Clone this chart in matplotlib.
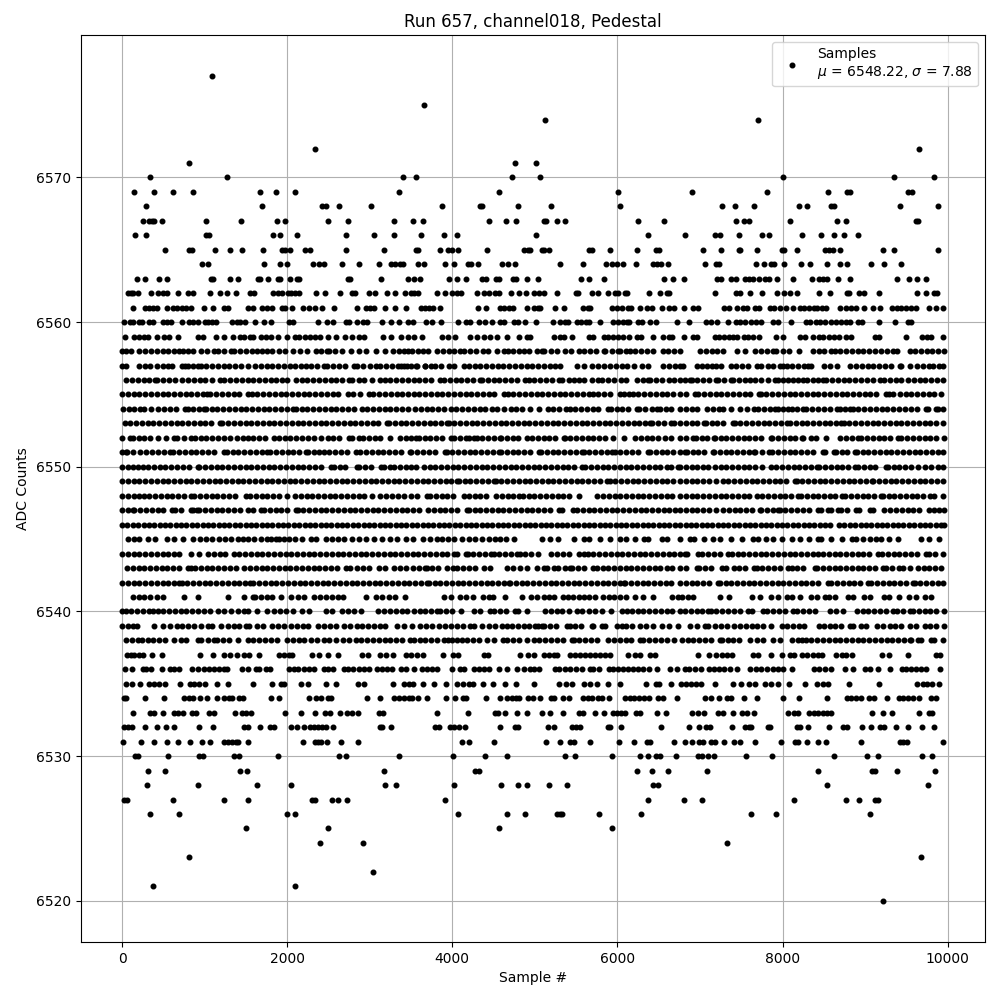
import matplotlib
matplotlib.use("Agg")
import matplotlib.pyplot as plt

title = "Run 657, channel018, Pedestal"
xlabel = "Sample #"
ylabel = "ADC Counts"
legend_label = "Samples\n$\\mu$ = 6548.22, $\\sigma$ = 7.88"

# Sample numbers, one list per ADC level
s6577 = [1092]
s6575 = [3655]
s6574 = [5118, 7705]
s6572 = [2337, 9652]
s6571 = [814, 4755, 5009]
s6570 = [343, 1273, 3401, 3558, 4719, 5058, 8008, 9350, 9833]
s6569 = [149, 391, 621, 862, 1672, 1866, 2096, 3353, 4562, 6013, 6907, 7814, 8552, 8781, 8814, 9519, 9567]
s6568 = [294, 1697, 2418, 2466, 2628, 3014, 3873, 4332, 4364, 4792, 5191, 6037, 7270, 7427, 7657, 8201, 8297, 8589, 8620, 9422, 9882]
s6567 = [258, 330, 363, 391, 488, 1020, 1443, 1878, 1975, 2495, 2736, 3293, 3522, 3643, 4441, 4647, 4767, 5106, 5138, 5263, 5360, 6255, 6569, 7440, 7536, 7597, 8092, 8660, 8769, 9620, 9640]
s6566 = [161, 294, 1020, 1056, 1830, 1914, 2120, 2712, 3051, 3293, 3619, 3897, 4054, 5009, 6375, 6823, 7186, 7246, 7475, 7754, 7838, 8238, 8467, 8624, 8745, 8914]
s6565 = [524, 814, 850, 1128, 1310, 1455, 1709, 1938, 1975, 2035, 2217, 2277, 2712, 3172, 3558, 3583, 3849, 3945, 3994, 4066, 4417, 4864, 4913, 4945, 5086, 5114, 5167, 5650, 5698, 5916, 6243, 6472, 6508, 7032, 7250, 7475, 7488, 7693, 7996, 8020, 8177, 8515, 8563, 8612, 8697, 9216, 9350, 9882]
s6564 = [971, 1044, 1721, 1914, 1999, 2313, 2386, 2446, 2664, 2869, 3111, 3256, 3305, 3365, 3401, 3583, 3655, 3909, 4018, 4187, 4223, 4308, 4598, 4671, 4755, 5300, 5578, 5856, 5940, 5989, 6073, 6230, 6436, 6484, 6533, 6617, 7065, 7198, 7235, 7681, 7778, 7862, 7899, 8020, 8226, 8334, 8540, 8697, 8782, 9072, 9229, 9434]
s6563 = [185, 282, 451, 548, 1076, 1104, 1310, 1406, 1648, 1672, 1769, 1890, 1914, 2035, 2120, 2144, 2736, 2761, 3135, 3462, 3534, 3607, 3957, 4054, 4163, 4356, 4405, 4526, 4562, 4731, 4767, 4900, 5033, 5553, 5650, 5843, 6569, 6678, 6811, 7210, 7258, 7379, 7440, 7548, 7597, 7645, 7717, 7790, 7838, 7935, 8128, 8358, 8443, 8491, 8540, 8673, 8818, 9386, 9531, 9628, 9737]
s6562 = [77, 109, 137, 197, 355, 439, 492, 540, 681, 802, 862, 1068, 1189, 1273, 1382, 1552, 1600, 1830, 1890, 1938, 2011, 2047, 2096, 2144, 2354, 2458, 2640, 2785, 2821, 2990, 3063, 3208, 3305, 3425, 3498, 3534, 3583, 3812, 3909, 3994, 4054, 4103, 4296, 4381, 4441, 4514, 4562, 4707, 4804, 4888, 4985, 5045, 5106, 5263, 5493, 5517, 5698, 5759, 5892, 5976, 6013, 6097, 6121, 6388, 6521, 6605, 6629, 7186, 7440, 7488, 7609, 7754, 7935, 8020, 8092, 8177, 8443, 8576, 8782, 8806, 8927, 8987, 9168, 9628, 9737, 9833, 9870]
s6561 = [137, 282, 330, 379, 427, 548, 621, 669, 729, 778, 838, 995, 1104, 1237, 1286, 1527, 1588, 1697, 1757, 1818, 1938, 1975, 2059, 2192, 2265, 2337, 2422, 2567, 2845, 2954, 3002, 3051, 3184, 3305, 3437, 3619, 3667, 3716, 3764, 3849, 4308, 4405, 4574, 4622, 4683, 4731, 4905, 4985, 5033, 5057, 5239, 5348, 5589, 5638, 5674, 5940, 5989, 6061, 6134, 6170, 6279, 6363, 6424, 6545, 6629, 6690, 6811, 6920, 6980, 7294, 7355, 7451, 7524, 7572, 7669, 7717, 7850, 7899, 7971, 8044, 8128, 8213, 8262, 8322, 8383, 8419, 8479, 8527, 8697, 8769, 8830, 8890, 8987, 9096, 9180, 9326, 9386, 9434, 9495, 9555, 9616, 9773, 9857, 9942]
s6560 = [28, 101, 137, 210, 246, 330, 379, 500, 548, 596, 729, 814, 862, 923, 1008, 1044, 1092, 1140, 1334, 1394, 1431, 1491, 1612, 1721, 1805, 2023, 2071, 2374, 2482, 2555, 2712, 2748, 2845, 2918, 2966, 3147, 3256, 3353, 3462, 3522, 3679, 3752, 3861, 4066, 4163, 4211, 4320, 4393, 4477, 4574, 4622, 4743, 4792, 4876, 5009, 5215, 5300, 5360, 5396, 5505, 5553, 5614, 5650, 5795, 5949, 6013, 6073, 6121, 6146, 6255, 6303, 6400, 6472, 6726, 6871, 7077, 7138, 7210, 7343, 7440, 7488, 7548, 7621, 7681, 7742, 7886, 7947, 8105, 8286, 8334, 8407, 8455, 8515, 8588, 8648, 8709, 8769, 8818, 8915, 8963, 9168, 9362, 9519, 9555]
s6559 = [40, 149, 210, 270, 318, 427, 512, 572, 681, 923, 983, 1140, 1237, 1346, 1431, 1479, 1552, 1588, 1685, 1745, 1805, 1890, 1999, 2096, 2144, 2217, 2277, 2337, 2398, 2495, 2591, 2700, 2785, 2869, 2930, 3160, 3256, 3377, 3462, 3534, 3631, 3873, 3945, 4030, 4211, 4300, 4381, 4461, 4542, 4663, 4804, 4905, 4945, 5227, 5300, 5348, 5445, 5650, 5710, 5843, 5892, 5949, 6013, 6073, 6146, 6235, 6291, 6436, 6557, 6629, 6666, 6811, 6920, 6968, 7186, 7234, 7294, 7355, 7403, 7451, 7536, 7585, 7645, 7717, 7923, 8008, 8213, 8274, 8370, 8443, 8491, 8563, 8624, 8685, 8769, 8830, 9120, 9168, 9499, 9688, 9749, 9797, 9942]
s6558 = [0, 50, 110, 210, 280, 350, 420, 490, 560, 630, 695, 735, 800, 860, 955, 1030, 1115, 1165, 1240, 1320, 1350, 1425, 1500, 1570, 1640, 1700, 1760, 1820, 1900, 1970, 2065, 2150, 2245, 2345, 2415, 2480, 2505, 2580, 2660, 2770, 2870, 2950, 3070, 3185, 3280, 3350, 3415, 3465, 3515, 3583, 3640, 3704, 3815, 3885, 3955, 4020, 4090, 4139, 4215, 4290, 4372, 4429, 4542, 4622, 4671, 4740, 4810, 4870, 4925, 5026, 5086, 5114, 5190, 5270, 5368, 5437, 5529, 5600, 5670, 5740, 5832, 5852, 5930, 6013, 6033, 6100, 6154, 6214, 6285, 6355, 6428, 6549, 6617, 6690, 6758, 7000, 7070, 7140, 7210, 7274, 7443, 7544, 7665, 7740, 7815, 7887, 7927, 8000, 8080, 8197, 8370, 8440, 8499, 8591, 8632, 8700, 8770, 8840, 8910, 8980, 9050, 9120, 9190, 9260, 9337, 9386, 9540, 9610, 9680, 9750, 9813, 9881, 9974]
s6557 = [0, 50, 210, 280, 340, 420, 490, 560, 610, 720, 760, 795, 860, 915, 955, 1020, 1090, 1160, 1230, 1300, 1370, 1440, 1530, 1610, 1680, 1750, 1820, 1890, 1960, 2030, 2100, 2170, 2225, 2285, 2365, 2445, 2485, 2560, 2630, 2700, 2810, 2850, 2920, 3000, 3070, 3130, 3200, 3270, 3340, 3420, 3500, 3373, 3450, 3555, 3575, 3665, 3675, 3740, 3795, 3865, 3960, 4025, 4147, 4200, 4270, 4340, 4410, 4480, 4550, 4620, 4690, 4760, 4830, 4900, 4970, 5040, 5110, 5180, 5250, 5310, 5510, 5600, 5690, 5770, 5840, 5910, 5980, 6050, 6120, 6200, 6295, 6375, 6555, 6630, 6700, 6760, 6800, 6960, 7030, 7090, 7150, 7200, 7260, 7370, 7440, 7510, 7580, 7685, 7745, 7820, 7890, 7970, 8010, 8055, 8120, 8190, 8260, 8310, 8340, 8500, 8580, 8655, 8820, 8890, 8960, 9030, 9100, 9170, 9240, 9310, 9420, 9440, 9540, 9630, 9700, 9775, 9825, 9890, 9945]
s6556 = [50, 120, 190, 260, 330, 400, 425, 500, 570, 640, 720, 800, 870, 945, 1000, 1090, 1190, 1240, 1310, 1380, 1450, 1520, 1590, 1660, 1730, 1800, 1870, 1940, 2000, 2105, 2175, 2245, 2315, 2385, 2455, 2525, 2595, 2665, 2750, 2790, 2870, 2930, 3030, 3130, 3180, 3250, 3320, 3390, 3460, 3530, 3600, 3670, 3740, 3850, 3900, 3970, 4040, 4110, 4180, 4250, 4330, 4360, 4430, 4500, 4570, 4640, 4710, 4780, 4885, 4925, 4995, 5065, 5135, 5205, 5290, 5330, 5410, 5470, 5535, 5600, 5690, 5770, 5810, 5880, 5960, 6040, 6100, 6235, 6305, 6375, 6395, 6465, 6535, 6620, 6690, 6760, 6820, 6880, 6900, 6970, 7040, 7110, 7200, 7220, 7295, 7370, 7400, 7470, 7540, 7610, 7665, 7735, 7830, 7905, 7945, 8010, 8070, 8130, 8190, 8250, 8300, 8370, 8430, 8490, 8530, 8600, 8670, 8740, 8810, 8880, 8950, 9020, 9090, 9180, 9225, 9300, 9370, 9440, 9520, 9590, 9660, 9730, 9800, 9870, 9940]
s6555 = [0, 70, 140, 210, 280, 350, 420, 490, 560, 630, 700, 770, 840, 910, 980, 1030, 1070, 1140, 1210, 1280, 1350, 1420, 1520, 1570, 1640, 1710, 1780, 1850, 1920, 1990, 2060, 2130, 2200, 2270, 2340, 2410, 2480, 2550, 2620, 2740, 2800, 2880, 2990, 3045, 3115, 3185, 3255, 3325, 3395, 3460, 3530, 3600, 3670, 3740, 3810, 3880, 3950, 4020, 4090, 4160, 4230, 4300, 4370, 4440, 4510, 4630, 4670, 4740, 4810, 4880, 4950, 5020, 5090, 5160, 5230, 5300, 5370, 5440, 5510, 5580, 5660, 5700, 5770, 5840, 5910, 6030, 6080, 6145, 6185, 6255, 6325, 6395, 6465, 6535, 6605, 6675, 6760, 6830, 6940, 6980, 7050, 7120, 7190, 7260, 7330, 7400, 7470, 7540, 7610, 7720, 7735, 7805, 7875, 7945, 8015, 8085, 8155, 8225, 8295, 8365, 8435, 8505, 8575, 8645, 8715, 8785, 8855, 8925, 8995, 9065, 9135, 9255, 9290, 9340, 9420, 9490, 9560, 9630, 9700, 9770, 9840, 9920]
s6554 = [10, 80, 150, 220, 270, 345, 440, 510, 580, 650, 760, 795, 865, 935, 995, 1015, 1085, 1155, 1225, 1295, 1365, 1435, 1505, 1575, 1645, 1715, 1785, 1855, 1925, 1995, 2065, 2105, 2175, 2245, 2315, 2385, 2455, 2525, 2595, 2665, 2735, 2805, 2910, 2970, 3040, 3110, 3180, 3250, 3320, 3390, 3460, 3545, 3615, 3690, 3760, 3830, 3900, 3985, 4050, 4120, 4190, 4260, 4330, 4400, 4480, 4545, 4625, 4705, 4770, 4845, 4945, 5045, 5155, 5225, 5295, 5375, 5420, 5490, 5560, 5630, 5700, 5770, 5880, 5920, 5990, 6060, 6130, 6235, 6265, 6335, 6415, 6485, 6515, 6585, 6655, 6760, 6830, 6900, 6960, 7090, 7160, 7230, 7285, 7375, 7485, 7565, 7650, 7705, 7775, 7845, 7905, 7945, 8010, 8070, 8110, 8180, 8250, 8290, 8360, 8430, 8500, 8570, 8655, 8695, 8760, 8815, 8850, 8920, 8990, 9060, 9130, 9200, 9270, 9340, 9410, 9480, 9560, 9630, 9735, 9760, 9860, 9880, 9950]
s6553 = [30, 100, 170, 240, 310, 380, 450, 520, 590, 660, 730, 800, 870, 940, 1010, 1080, 1190, 1215, 1285, 1355, 1425, 1495, 1565, 1635, 1705, 1775, 1845, 1915, 1985, 2055, 2125, 2195, 2265, 2335, 2405, 2475, 2545, 2615, 2685, 2755, 2825, 2895, 2965, 3035, 3105, 3210, 3235, 3305, 3375, 3445, 3515, 3585, 3655, 3725, 3795, 3865, 3935, 3955, 4025, 4095, 4165, 4235, 4305, 4375, 4445, 4515, 4585, 4655, 4725, 4795, 4865, 4935, 5005, 5075, 5145, 5215, 5285, 5355, 5425, 5495, 5565, 5635, 5705, 5775, 5845, 5915, 5985, 6055, 6125, 6195, 6265, 6335, 6395, 6425, 6495, 6565, 6645, 6690, 6760, 6830, 6900, 6970, 7050, 7070, 7140, 7210, 7280, 7395, 7420, 7490, 7560, 7630, 7700, 7770, 7840, 7910, 7980, 8055, 8090, 8160, 8230, 8300, 8370, 8440, 8510, 8580, 8650, 8710, 8740, 8810, 8880, 8950, 9020, 9090, 9160, 9230, 9300, 9370, 9440, 9510, 9580, 9650, 9720, 9790, 9860, 9940]
s6552 = [0, 90, 130, 200, 270, 340, 440, 530, 630, 670, 750, 830, 880, 950, 1020, 1090, 1160, 1240, 1310, 1390, 1470, 1520, 1590, 1660, 1730, 1840, 1900, 1970, 2040, 2110, 2180, 2250, 2325, 2405, 2490, 2560, 2630, 2745, 2780, 2870, 2920, 2990, 3060, 3130, 3250, 3365, 3435, 3500, 3560, 3595, 3665, 3735, 3805, 3875, 3985, 4020, 4095, 4170, 4200, 4260, 4295, 4365, 4435, 4505, 4575, 4590, 4660, 4730, 4800, 4905, 4965, 5035, 5105, 5175, 5245, 5350, 5360, 5430, 5500, 5570, 5640, 5710, 5780, 5850, 5945, 6080, 6215, 6285, 6355, 6425, 6495, 6575, 6655, 6760, 6830, 6910, 6950, 7020, 7090, 7170, 7180, 7250, 7320, 7390, 7460, 7530, 7600, 7670, 7740, 7855, 7875, 7945, 8015, 8085, 8155, 8230, 8250, 8340, 8410, 8530, 8700, 8770, 8840, 8915, 8955, 9025, 9095, 9165, 9235, 9305, 9400, 9440, 9510, 9580, 9650, 9720, 9790, 9860, 9975]
s6551 = [0, 50, 60, 130, 220, 290, 360, 430, 510, 585, 620, 690, 760, 830, 900, 970, 1040, 1110, 1230, 1270, 1340, 1410, 1480, 1550, 1620, 1690, 1760, 1795, 1865, 1935, 2005, 2075, 2145, 2225, 2255, 2325, 2385, 2440, 2510, 2580, 2650, 2720, 2830, 2885, 2955, 3025, 3095, 3165, 3235, 3305, 3375, 3485, 3505, 3575, 3645, 3715, 3785, 3915, 3930, 4000, 4070, 4140, 4210, 4280, 4350, 4420, 4490, 4565, 4590, 4660, 4730, 4800, 4870, 4940, 5055, 5075, 5145, 5215, 5285, 5355, 5425, 5495, 5570, 5590, 5660, 5730, 5800, 5870, 5935, 5965, 6035, 6105, 6175, 6245, 6365, 6395, 6465, 6535, 6605, 6675, 6760, 6820, 6840, 6910, 6980, 7050, 7160, 7170, 7240, 7310, 7380, 7450, 7520, 7590, 7655, 7670, 7750, 7840, 7875, 7945, 8015, 8085, 8155, 8225, 8295, 8365, 8485, 8510, 8620, 8645, 8715, 8785, 8875, 8900, 8970, 9040, 9110, 9180, 9250, 9320, 9390, 9460, 9530, 9600, 9670, 9740, 9810, 9880, 9950]
s6550 = [0, 70, 130, 190, 250, 310, 385, 455, 525, 595, 665, 735, 805, 915, 935, 1005, 1075, 1145, 1215, 1285, 1355, 1425, 1495, 1565, 1635, 1705, 1775, 1845, 1915, 1985, 2055, 2125, 2195, 2265, 2335, 2405, 2525, 2565, 2635, 2705, 2840, 2870, 2940, 3010, 3135, 3170, 3250, 3290, 3365, 3435, 3500, 3560, 3655, 3725, 3795, 3865, 3935, 4005, 4075, 4145, 4215, 4285, 4355, 4425, 4495, 4565, 4635, 4705, 4775, 4845, 4915, 4985, 5055, 5125, 5195, 5265, 5335, 5405, 5475, 5570, 5610, 5680, 5750, 5820, 5890, 5960, 6030, 6100, 6170, 6240, 6310, 6380, 6450, 6520, 6600, 6655, 6735, 6760, 6830, 6900, 6970, 7040, 7100, 7180, 7250, 7320, 7390, 7460, 7530, 7600, 7670, 7755, 7855, 7925, 7995, 8065, 8135, 8205, 8275, 8345, 8420, 8445, 8515, 8585, 8655, 8725, 8795, 8875, 8915, 8985, 9055, 9125, 9255, 9275, 9345, 9415, 9485, 9555, 9640, 9720, 9800, 9880, 9945]
s6549 = [0, 70, 140, 210, 280, 350, 420, 490, 560, 630, 700, 770, 840, 910, 980, 1050, 1120, 1190, 1260, 1330, 1400, 1470, 1540, 1610, 1680, 1750, 1820, 1890, 1960, 2030, 2100, 2170, 2240, 2310, 2380, 2450, 2520, 2590, 2660, 2730, 2800, 2870, 2940, 3010, 3080, 3150, 3220, 3290, 3360, 3430, 3500, 3570, 3640, 3710, 3780, 3850, 3920, 3990, 4060, 4080, 4150, 4220, 4290, 4360, 4430, 4500, 4525, 4595, 4665, 4735, 4805, 4875, 4945, 5015, 5085, 5155, 5225, 5295, 5365, 5435, 5505, 5575, 5645, 5715, 5785, 5870, 5905, 5975, 6045, 6115, 6185, 6255, 6325, 6395, 6465, 6535, 6605, 6675, 6760, 6830, 6900, 6970, 7040, 7110, 7195, 7275, 7345, 7415, 7485, 7555, 7625, 7695, 7765, 7835, 7905, 7975, 8045, 8150, 8170, 8240, 8310, 8380, 8450, 8520, 8590, 8660, 8730, 8800, 8870, 8940, 9010, 9080, 9100, 9170, 9240, 9310, 9380, 9450, 9520, 9590, 9660, 9730, 9800, 9870, 9950]
s6548 = [0, 70, 140, 210, 270, 330, 400, 470, 540, 610, 680, 750, 840, 875, 945, 1015, 1085, 1155, 1225, 1295, 1365, 1500, 1550, 1620, 1690, 1760, 1830, 1900, 2000, 2095, 2165, 2235, 2305, 2375, 2445, 2515, 2585, 2655, 2725, 2795, 2865, 2935, 3030, 3130, 3200, 3270, 3340, 3410, 3500, 3570, 3695, 3730, 3800, 3870, 3940, 4010, 4140, 4200, 4270, 4340, 4410, 4535, 4600, 4670, 4740, 4805, 4855, 4925, 4995, 5065, 5135, 5205, 5275, 5345, 5415, 5535, 5755, 5825, 5895, 5965, 6035, 6105, 6175, 6245, 6315, 6385, 6455, 6525, 6595, 6665, 6760, 6830, 6900, 6970, 7040, 7110, 7180, 7250, 7320, 7390, 7460, 7530, 7600, 7695, 7755, 7825, 7895, 7965, 8035, 8105, 8190, 8220, 8300, 8370, 8430, 8500, 8570, 8640, 8725, 8760, 8830, 8900, 8970, 9040, 9110, 9195, 9215, 9285, 9355, 9425, 9495, 9565, 9635, 9705, 9785, 9840, 9945]
s6547 = [0, 70, 130, 150, 220, 290, 360, 430, 500, 600, 640, 710, 835, 865, 905, 935, 1005, 1075, 1145, 1215, 1285, 1355, 1425, 1525, 1580, 1680, 1720, 1790, 1860, 1930, 2000, 2105, 2125, 2195, 2265, 2335, 2405, 2475, 2545, 2615, 2685, 2755, 2825, 2895, 2965, 3035, 3105, 3175, 3245, 3315, 3385, 3455, 3525, 3595, 3705, 3775, 3845, 3915, 3985, 4055, 4180, 4200, 4270, 4340, 4410, 4480, 4550, 4620, 4690, 4760, 4830, 4900, 4970, 5040, 5110, 5180, 5290, 5330, 5460, 5510, 5580, 5650, 5720, 5790, 5860, 5930, 6000, 6070, 6140, 6210, 6280, 6350, 6420, 6490, 6560, 6630, 6700, 6760, 6830, 6900, 6970, 7040, 7110, 7200, 7280, 7350, 7420, 7490, 7560, 7630, 7725, 7745, 7815, 7885, 7945, 7965, 8035, 8105, 8175, 8245, 8315, 8430, 8470, 8550, 8590, 8670, 8710, 8780, 8885, 8925, 9055, 9095, 9235, 9305, 9375, 9445, 9515, 9585, 9655, 9780, 9840, 9900, 9980]
s6546 = [0, 65, 130, 195, 260, 325, 390, 455, 520, 585, 650, 715, 780, 845, 910, 975, 1040, 1105, 1170, 1235, 1300, 1365, 1430, 1495, 1560, 1625, 1690, 1755, 1820, 1885, 1950, 2015, 2080, 2145, 2210, 2275, 2340, 2405, 2470, 2535, 2600, 2665, 2730, 2795, 2860, 2925, 2990, 3055, 3120, 3185, 3250, 3315, 3380, 3445, 3510, 3575, 3640, 3705, 3770, 3835, 3900, 3965, 4030, 4095, 4160, 4225, 4290, 4355, 4420, 4485, 4550, 4615, 4680, 4745, 4810, 4875, 4940, 5005, 5070, 5135, 5200, 5265, 5330, 5395, 5460, 5525, 5590, 5655, 5720, 5785, 5850, 5915, 5980, 6045, 6110, 6175, 6240, 6305, 6370, 6435, 6500, 6565, 6630, 6695, 6760, 6825, 6890, 6955, 7020, 7085, 7150, 7215, 7280, 7345, 7410, 7475, 7540, 7605, 7670, 7735, 7800, 7865, 7930, 7995, 8060, 8125, 8190, 8255, 8320, 8385, 8450, 8515, 8580, 8685, 8750, 8815, 8880, 8945, 9010, 9075, 9140, 9205, 9270, 9335, 9400, 9465, 9530, 9595, 9660, 9725, 9790, 9855, 9920, 9955]
s6545 = [75, 140, 200, 310, 400, 550, 630, 740, 855, 945, 1015, 1090, 1170, 1250, 1325, 1400, 1460, 1530, 1600, 1680, 1760, 1800, 1860, 1900, 1960, 2025, 2095, 2185, 2285, 2345, 2465, 2540, 2620, 2690, 2790, 2870, 2960, 3050, 3150, 3240, 3335, 3435, 3525, 3645, 3735, 3810, 3880, 3950, 4020, 4120, 4200, 4280, 4360, 4440, 4520, 4580, 4655, 4745, 5085, 5185, 5275, 5470, 5590, 5650, 5785, 5910, 6030, 6110, 6210, 6320, 6375, 6535, 6605, 6760, 6880, 6930, 7050, 7160, 7240, 7370, 7505, 7640, 7705, 7800, 7885, 7990, 8115, 8210, 8320, 8430, 8470, 8590, 8720, 8845, 8885, 8975, 9060, 9135, 9195, 9295, 9400, 9680, 9780, 9900]
s6544 = [0, 70, 140, 210, 280, 350, 420, 490, 560, 630, 695, 835, 935, 1035, 1110, 1180, 1250, 1360, 1420, 1490, 1560, 1630, 1700, 1770, 1840, 1910, 1980, 2050, 2120, 2190, 2260, 2330, 2400, 2470, 2540, 2610, 2680, 2750, 2820, 2890, 2960, 3030, 3100, 3170, 3240, 3310, 3380, 3450, 3520, 3590, 3660, 3730, 3800, 3870, 3940, 4020, 4060, 4170, 4185, 4255, 4325, 4395, 4470, 4500, 4570, 4640, 4710, 4785, 4815, 4885, 4955, 5035, 5200, 5270, 5340, 5410, 5540, 5590, 5640, 5710, 5780, 5850, 5920, 5990, 6060, 6130, 6200, 6270, 6340, 6410, 6480, 6550, 6620, 6690, 6760, 6820, 6840, 6980, 7030, 7100, 7170, 7240, 7345, 7385, 7455, 7525, 7595, 7665, 7735, 7805, 7875, 7945, 8015, 8085, 8155, 8225, 8295, 8365, 8430, 8490, 8560, 8630, 8700, 8770, 8840, 8910, 8980, 9050, 9155, 9205, 9275, 9345, 9415, 9485, 9555, 9625, 9740, 9780, 9850, 9940]
s6543 = [60, 130, 200, 270, 340, 410, 480, 550, 620, 690, 800, 835, 885, 955, 1025, 1095, 1165, 1235, 1305, 1375, 1480, 1550, 1620, 1690, 1760, 1830, 1900, 1970, 2040, 2110, 2180, 2250, 2320, 2390, 2460, 2530, 2600, 2710, 2760, 2850, 2920, 2990, 3110, 3190, 3290, 3370, 3445, 3525, 3595, 3675, 3690, 3760, 3830, 3935, 4010, 4060, 4130, 4200, 4270, 4390, 4460, 4660, 4740, 4820, 4905, 5020, 5105, 5145, 5235, 5285, 5360, 5430, 5455, 5525, 5595, 5710, 5750, 5820, 5890, 5960, 6030, 6100, 6170, 6240, 6310, 6380, 6450, 6520, 6600, 6660, 6760, 6830, 6960, 6990, 7060, 7130, 7265, 7310, 7410, 7475, 7545, 7655, 7685, 7755, 7825, 7895, 7965, 8070, 8110, 8180, 8250, 8390, 8420, 8490, 8560, 8630, 8700, 8770, 8840, 8910, 8980, 9050, 9120, 9215, 9250, 9330, 9410, 9460, 9550, 9640, 9710, 9780, 9850, 9920]
s6542 = [0, 70, 140, 210, 280, 350, 420, 490, 560, 630, 695, 720, 790, 860, 930, 1000, 1070, 1140, 1210, 1280, 1350, 1420, 1490, 1550, 1590, 1660, 1730, 1800, 1870, 1940, 2010, 2080, 2150, 2220, 2290, 2360, 2430, 2500, 2570, 2640, 2710, 2780, 2850, 2920, 2990, 3060, 3130, 3200, 3270, 3340, 3410, 3480, 3550, 3620, 3690, 3715, 3785, 3855, 3925, 3995, 4065, 4135, 4205, 4275, 4345, 4415, 4485, 4555, 4625, 4685, 4700, 4770, 4840, 4910, 4980, 5050, 5120, 5190, 5260, 5330, 5400, 5470, 5540, 5610, 5680, 5750, 5820, 5890, 5960, 6030, 6080, 6095, 6165, 6235, 6305, 6375, 6445, 6515, 6585, 6655, 6760, 6830, 6900, 6970, 7040, 7110, 7220, 7240, 7310, 7380, 7450, 7520, 7590, 7660, 7730, 7800, 7870, 7940, 8010, 8080, 8150, 8220, 8290, 8360, 8430, 8550, 8590, 8660, 8730, 8800, 8870, 8940, 9035, 9075, 9145, 9215, 9285, 9355, 9425, 9495, 9580, 9600, 9670, 9740, 9810, 9880, 9950]
s6541 = [130, 200, 270, 340, 420, 490, 755, 925, 1285, 1480, 1580, 1610, 1680, 1750, 1820, 1930, 2045, 2125, 2205, 2325, 2400, 2470, 2540, 2610, 2670, 2950, 3070, 3150, 3235, 3305, 3425, 3895, 3985, 4090, 4170, 4255, 4375, 4440, 4495, 4640, 4845, 4955, 5020, 5105, 5175, 5230, 5335, 5400, 5460, 5530, 5590, 5660, 5730, 5830, 5900, 5960, 6030, 6110, 6215, 6315, 6435, 6665, 6735, 6780, 6850, 6920, 7240, 7355, 7635, 7725, 7855, 7950, 8050, 8120, 8215, 8340, 8420, 8510, 8560, 8640, 8795, 8855, 8985, 9055, 9225, 9295, 9410, 9530, 9620, 9720, 9800]
s6540 = [0, 50, 110, 180, 250, 320, 370, 430, 500, 570, 640, 710, 780, 850, 920, 990, 1060, 1160, 1240, 1320, 1400, 1480, 1530, 1640, 1755, 1840, 1910, 1980, 2075, 2185, 2265, 2465, 2545, 2665, 2740, 2810, 2890, 3105, 3175, 3245, 3315, 3385, 3455, 3535, 3605, 3675, 3745, 3815, 3855, 3925, 3995, 4100, 4260, 4340, 4455, 4505, 4575, 4645, 4765, 4795, 4905, 5125, 5200, 5270, 5330, 5410, 5510, 5570, 5650, 5730, 5810, 5920, 6055, 6115, 6175, 6245, 6315, 6385, 6455, 6525, 6595, 6665, 6760, 6820, 6890, 6960, 7030, 7100, 7130, 7200, 7270, 7340, 7410, 7480, 7585, 7625, 7765, 7815, 7885, 7955, 8025, 8130, 8180, 8245, 8320, 8390, 8570, 8650, 8730, 8900, 8970, 9040, 9110, 9180, 9250, 9335, 9385, 9460, 9540, 9580, 9650, 9720, 9790, 9860, 9960]
s6539 = [0, 70, 130, 180, 390, 490, 580, 670, 730, 795, 870, 950, 1035, 1085, 1195, 1280, 1350, 1420, 1500, 1540, 1640, 1710, 1820, 1890, 1960, 2050, 2120, 2195, 2255, 2375, 2450, 2520, 2590, 2690, 2760, 2840, 2910, 2980, 3050, 3130, 3190, 3330, 3410, 3515, 3610, 3680, 3750, 3835, 3915, 3985, 4055, 4125, 4220, 4260, 4360, 4440, 4520, 4600, 4665, 4725, 4795, 4865, 4935, 5005, 5035, 5085, 5115, 5185, 5255, 5390, 5420, 5490, 5560, 5690, 5710, 5810, 5850, 5990, 6050, 6110, 6175, 6275, 6345, 6435, 6535, 6620, 6735, 6885, 6960, 7060, 7100, 7180, 7250, 7325, 7410, 7485, 7555, 7625, 7695, 7765, 7865, 7990, 8060, 8130, 8200, 8260, 8445, 8500, 8570, 8640, 8710, 8815, 8855, 8955, 9010, 9140, 9220, 9305, 9360, 9440, 9550, 9620, 9720, 9790, 9860, 9960]
s6538 = [50, 120, 190, 240, 310, 380, 450, 520, 630, 710, 780, 915, 955, 1035, 1115, 1155, 1225, 1295, 1400, 1520, 1590, 1660, 1730, 1800, 1880, 2000, 2070, 2140, 2200, 2285, 2365, 2445, 2510, 2590, 2670, 2750, 2830, 2900, 2970, 3040, 3110, 3180, 3250, 3320, 3390, 3490, 3535, 3605, 3675, 3745, 3815, 3900, 3945, 4000, 4060, 4120, 4180, 4250, 4320, 4420, 4500, 4620, 4665, 4735, 4805, 4905, 4985, 5055, 5125, 5195, 5265, 5335, 5450, 5470, 5540, 5610, 5680, 5750, 5890, 5960, 6030, 6100, 6170, 6275, 6315, 6385, 6455, 6525, 6595, 6680, 6780, 6850, 6920, 6990, 7060, 7130, 7245, 7265, 7335, 7405, 7475, 7610, 7690, 7760, 7890, 7975, 8110, 8190, 8230, 8290, 8350, 8420, 8490, 8560, 8630, 8700, 8770, 8840, 8910, 8980, 9050, 9120, 9190, 9260, 9330, 9400, 9470, 9540, 9560, 9640, 9680, 9800, 9840, 9945]
s6537 = [64, 113, 149, 210, 258, 367, 488, 947, 1104, 1237, 1310, 1394, 1479, 1539, 1660, 1902, 1963, 2023, 2063, 2301, 2386, 2495, 2615, 2905, 2978, 3123, 3196, 3280, 3437, 3498, 3570, 3643, 3885, 4006, 4066, 4381, 4429, 4816, 4913, 4985, 5106, 5167, 5227, 5267, 5420, 5489, 5549, 5610, 5670, 5730, 5791, 5851, 5912, 6134, 6219, 6279, 6400, 6460, 6976, 7113, 7194, 7262, 7323, 7383, 7645, 7705, 7862, 7996, 8092, 8141, 8238, 8298, 8371, 8431, 8479, 8649, 8721, 8769, 8842, 9204, 9289, 9519, 9857, 9906]
s6536 = [40, 125, 258, 294, 355, 488, 584, 633, 693, 850, 923, 995, 1056, 1116, 1177, 1237, 1273, 1455, 1527, 1624, 1660, 1745, 1793, 2023, 2083, 2132, 2204, 2265, 2325, 2446, 2495, 2555, 2688, 2736, 2797, 2869, 2930, 2990, 3091, 3151, 3212, 3272, 3373, 3434, 3534, 3635, 3696, 3756, 3816, 3994, 4099, 4139, 4260, 4320, 4381, 4441, 4562, 4663, 4784, 4864, 4937, 4985, 5045, 5247, 5287, 5360, 5420, 5493, 5566, 5662, 5710, 5771, 5904, 5952, 6013, 6073, 6134, 6194, 6255, 6315, 6388, 6484, 6638, 6718, 6823, 6871, 6940, 7009, 7114, 7174, 7234, 7294, 7367, 7451, 7609, 7677, 7742, 7814, 7886, 7947, 8008, 8109, 8383, 8443, 8511, 8592, 8753, 8854, 9003, 9056, 9156, 9301, 9450, 9499, 9559, 9620, 9680, 9741, 9902]
s6535 = [52, 125, 222, 330, 391, 451, 524, 705, 826, 874, 935, 1008, 1153, 1286, 1588, 1818, 1926, 1963, 2168, 2253, 2470, 2591, 2857, 2930, 3280, 3413, 3474, 3522, 3643, 3776, 3921, 4054, 4127, 4199, 4248, 4369, 4489, 4635, 4767, 4985, 5287, 5372, 5445, 5590, 5662, 5747, 5880, 6037, 6351, 6472, 6508, 6654, 6775, 6835, 6896, 6956, 7017, 7186, 7403, 7500, 7597, 7669, 7790, 7862, 7947, 8080, 8274, 8419, 8491, 8552, 8806, 9168, 9628, 9700, 9749, 9809, 9894]
s6534 = [28, 52, 282, 512, 754, 814, 862, 947, 1032, 1153, 1237, 1298, 1334, 1419, 1467, 1805, 1902, 2265, 2349, 2410, 2495, 2531, 2966, 3123, 3293, 3353, 3413, 3474, 3510, 3583, 3692, 3921, 4030, 4127, 4163, 4405, 4574, 4659, 4719, 4767, 4804, 4913, 4973, 5057, 5191, 5227, 5336, 5408, 5578, 5638, 5698, 5759, 5819, 5904, 6097, 6158, 6206, 6266, 6327, 6388, 6497, 6557, 6726, 7065, 7138, 7234, 7331, 7379, 7536, 7693, 8008, 8201, 8540, 8782, 8830, 8890, 8951, 9048, 9108, 9265, 9410, 9458, 9519, 9580, 9652, 9797, 9857]
s6533 = [137, 342, 391, 500, 633, 681, 741, 850, 899, 1056, 1116, 1370, 1455, 1503, 1564, 1975, 2168, 2337, 2458, 2519, 2640, 2724, 2785, 2857, 3111, 3160, 3812, 4187, 4514, 4550, 4635, 4780, 4900, 5082, 5179, 5336, 5529, 5578, 5734, 5843, 5952, 6001, 6049, 6097, 6230, 6279, 6484, 6593, 6908, 6980, 7053, 7222, 7282, 7403, 7512, 7572, 7657, 8068, 8141, 8189, 8322, 8383, 8431, 8491, 8540, 8588, 9084, 9220, 9326, 9652, 9773, 9809]
s6532 = [28, 77, 125, 282, 427, 536, 633, 935, 1104, 1479, 1527, 1672, 1793, 1842, 2047, 2120, 2204, 2277, 2325, 2374, 2422, 2470, 2555, 3123, 3147, 3256, 3788, 3836, 3970, 4018, 4078, 4151, 4574, 4755, 4792, 5154, 5235, 5445, 5493, 5541, 5880, 5916, 6049, 6533, 6871, 6992, 7077, 7126, 7391, 7548, 7597, 7621, 7826, 7850, 8177, 8213, 8310, 8563, 8733, 8782, 8963, 9072, 9180, 9229, 9374, 9519, 9688, 9833]
s6531 = [16, 234, 391, 548, 681, 826, 971, 1068, 1237, 1286, 1334, 1382, 1406, 1527, 2192, 2337, 2374, 2410, 2482, 2652, 2857, 4115, 4199, 4502, 5130, 5300, 5420, 5469, 5674, 6025, 6206, 6363, 6400, 6690, 6823, 6908, 6992, 7041, 7138, 7186, 7294, 7415, 7488, 7669, 7983, 8153, 8189, 8298, 8431, 8527, 8950, 9422, 9458, 9507, 9942]
s6530 = [161, 197, 560, 935, 983, 1358, 1419, 1890, 2628, 2712, 3353, 4006, 4393, 4659, 5360, 5481, 5940, 6279, 6375, 6472, 6521, 6714, 6980, 7029, 7101, 7174, 7560, 7874, 8624, 9023, 9156, 9688, 9809]
s6529 = [318, 524, 1431, 1515, 3172, 4272, 4320, 6243, 6424, 6617, 7089, 8431, 9084, 9120, 9386, 9845]
s6528 = [306, 923, 1636, 2047, 3184, 3317, 4018, 4586, 4792, 4900, 5167, 5384, 6436, 6497, 8540, 9761]
s6527 = [28, 60, 621, 1237, 1527, 2301, 2337, 2543, 2615, 2724, 3909, 6375, 6811, 7029, 8141, 8769, 8927, 9120, 9156]
s6526 = [343, 693, 1999, 2096, 4066, 4659, 4876, 5263, 5300, 5324, 5771, 6291, 7621, 7923, 9060]
s6525 = [1503, 2495, 4562, 5940]
s6524 = [2398, 2918, 7331]
s6523 = [814, 9676]
s6522 = [3039]
s6521 = [379, 2096]
s6520 = [9217]

adc_levels = [6577, 6575, 6574, 6572, 6571, 6570, 6569, 6568, 6567, 6566, 6565, 6564, 6563, 6562, 6561, 6560, 6559,
              6558, 6557, 6556, 6555, 6554, 6553, 6552, 6551, 6550, 6549, 6548, 6547, 6546, 6545, 6544, 6543, 6542,
              6541, 6540, 6539, 6538, 6537, 6536, 6535, 6534, 6533, 6532, 6531, 6530, 6529, 6528, 6527, 6526, 6525,
              6524, 6523, 6522, 6521, 6520]
samples_by_level = [s6577, s6575, s6574, s6572, s6571, s6570, s6569, s6568, s6567, s6566, s6565, s6564, s6563, s6562,
                    s6561, s6560, s6559, s6558, s6557, s6556, s6555, s6554, s6553, s6552, s6551, s6550, s6549, s6548,
                    s6547, s6546, s6545, s6544, s6543, s6542, s6541, s6540, s6539, s6538, s6537, s6536, s6535, s6534,
                    s6533, s6532, s6531, s6530, s6529, s6528, s6527, s6526, s6525, s6524, s6523, s6522, s6521, s6520]

xs, ys = [], []
for level, samples in zip(adc_levels, samples_by_level):
    for s in samples:
        xs.append(min(s, 9955))
        ys.append(level)

fig, ax = plt.subplots(figsize=(10, 10), dpi=100)
ax.plot(xs, ys, "k.", markersize=6.6, label=legend_label)
ax.set_title(title)
ax.set_xlabel(xlabel)
ax.set_ylabel(ylabel)
ax.grid(True)
ax.legend(loc="upper right")
fig.tight_layout()
ax.set_position([0.081, 0.058, 0.904, 0.907])
fig.savefig("out.png", dpi=100)
